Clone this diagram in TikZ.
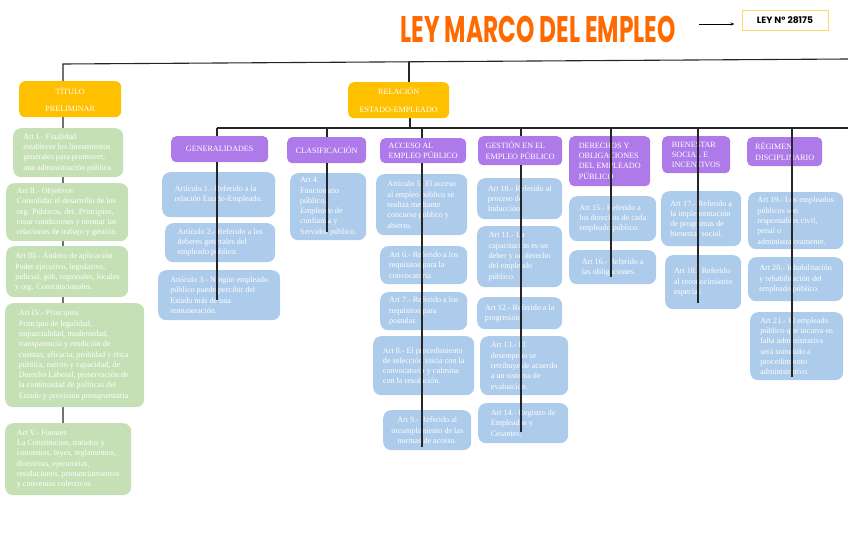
\documentclass[tikz,border=0pt]{standalone}
\usepackage{fontspec}
\setmainfont{Liberation Serif}
\newfontfamily\titlefont{Poppins}
\usepackage{graphicx}
\usetikzlibrary{arrows.meta, backgrounds}

\definecolor{titorange}{HTML}{FF6A00}
\definecolor{boxorange}{HTML}{FFC000}
\definecolor{boxgreen}{HTML}{C5E0B4}
\definecolor{boxblue}{HTML}{ADCBEA}
\definecolor{boxpurple}{HTML}{AE7AEA}
\definecolor{leyline}{HTML}{FFD966}

\begin{document}
\begin{tikzpicture}[
    x=1pt, y=-1pt,
    font=\fontsize{8.1}{10.3}\selectfont,
    title/.style={font=\titlefont\fontsize{37}{37}\selectfont\bfseries, text=titorange, inner sep=0pt},
    leybox/.style={rectangle, draw=leyline, line width=1pt, minimum width=86pt, minimum height=20pt, font=\titlefont\fontsize{9.2}{10}\selectfont\bfseries},
    headbox/.style={rectangle, rounded corners=6pt, fill=boxorange, text=white, anchor=north west, align=center, inner sep=1pt},
    catbox/.style={rectangle, rounded corners=5pt, fill=boxpurple, text=white, anchor=north west, align=left, inner sep=1pt},
    greenbox/.style={rectangle, rounded corners=8pt, fill=boxgreen, text=white, anchor=north west, align=left, inner sep=1pt},
    bluebox/.style={rectangle, rounded corners=8pt, fill=boxblue, text=white, anchor=north west, align=left, inner sep=1pt},
    wire/.style={line width=1.1pt, draw=black!85},
    arrow/.style={line width=0.9pt, -{Stealth[length=4pt]}},
]
    \useasboundingbox (0,0) rectangle (848,549);

    % title
    \node (title) [title] at (538,29) {\scalebox{0.63}[1]{LEY MARCO DEL EMPLEO}};
    \node (ley) [leybox] at (785,20) {LEY Nº 28175};
    \coordinate (arrs) at (699,24);
    \draw [arrow, shorten >=7pt] (arrs) -- (arrs -| ley.west);

    % bus lines
    \coordinate (tl) at (63,64);
    \coordinate (tr) at (848,59);
    \coordinate (relup) at (409,62);
    \coordinate (bus) at (410,128);
    \coordinate (busl) at (217,128);
    \coordinate (busr) at (848,128);

    % titulo preliminar
    \node (titulo) [headbox, minimum width=102pt, minimum height=36pt] at (19,81) {TÍTULO\\[7pt]PRELIMINAR};
    \node (artI) [greenbox, minimum width=110pt, minimum height=49pt] at (13,128)
      {Art I.- Finalidad\\establecer los lineamientos\\generales para promover,\\una administración pública.};
    \node (artII) [greenbox, minimum width=122pt, minimum height=58pt] at (6,183)
      {Art II.- Objetivos\\Consolidar el desarrollo de los\\org. Públicos, det. Principios,\\crear condiciones y normar las\\relaciones de trabajo y gestión.};
    \node (artIII) [greenbox, minimum width=122pt, minimum height=51pt] at (6,246)
      {Art III.- Ámbito de aplicación\\Poder ejecutivo, legislativo,\\judicial, gob, regionales, locales\\y org. Constitucionales.};
    \node (artIV) [greenbox, minimum width=139pt, minimum height=104pt] at (5,303)
      {Art IV.- Principios\\Principio de legalidad,\\imparcialidad, modernidad,\\transparencia y rendición de\\cuentas, eficacia, probidad y ética\\pública, mérito y capacidad, de\\Derecho Laboral, preservación de\\la continuidad de políticas del\\Estado y provisión presupuestaria.};
    \node (artV) [greenbox, minimum width=126pt, minimum height=72pt] at (5,423)
      {Art V.- Fuentes\\La Constitucion, tratados y\\convenios, leyes, reglamentos,\\directivas, ejecutorias,\\resoluciones, pronunciamientos\\y convenios colectivos.};

    % relacion estado-empleado
    \node (rel) [headbox, minimum width=101pt, minimum height=36pt] at (348,82) {RELACIÓN\\[7pt]ESTADO-EMPLEADO};

    % categories
    \node (gen) [catbox, minimum width=97pt, minimum height=26pt] at (171,136) {GENERALIDADES};
    \node (clas) [catbox, minimum width=79pt, minimum height=26pt] at (287,137) {CLASIFICACIÓN};
    \node (acc) [catbox, minimum width=86pt, minimum height=25pt] at (380,138) {ACCESO AL\\EMPLEO PÚBLICO};
    \node (ges) [catbox, minimum width=84pt, minimum height=29pt] at (478,136) {GESTIÓN EN EL\\EMPLEO PÚBLICO};
    \node (der) [catbox, minimum width=81pt, minimum height=50pt] at (569,136) {DERECHOS Y\\OBLIGACIONES\\DEL EMPLEADO\\PÚBLICO};
    \node (bie) [catbox, minimum width=68pt, minimum height=37pt] at (662,136) {BIENESTAR\\SOCIAL E\\INCENTIVOS};
    \node (reg) [catbox, minimum width=75pt, minimum height=29pt] at (747,137) {RÉGIMEN\\DISCIPLINARIO};

    % articles
    \node (art1) [bluebox, minimum width=113pt, minimum height=45pt] at (162,172) {Artículo 1.- Referido a la\\relación Estado-Empleado.};
    \node (art2) [bluebox, minimum width=110pt, minimum height=39pt] at (165,223) {Artículo 2.- Referido a los\\deberes generales del\\empleado público.};
    \node (art3) [bluebox, minimum width=122pt, minimum height=50pt] at (158,270) {Artículo 3.- Ningún empleado\\público puede percibir del\\Estado más de una\\remuneración.};
    \node (art4) [bluebox, minimum width=76pt, minimum height=67pt] at (290,173) {Art 4.\\Funcionario\\público,\\Empleado de\\confianza y\\Servidor público.};
    \node (art5) [bluebox, minimum width=91pt, minimum height=61pt] at (376,174) {Artículo 5. El acceso\\al empleo público se\\realiza mediante\\concurso público y\\abierto.};
    \node (art6) [bluebox, minimum width=87pt, minimum height=38pt] at (380,246) {Art 6.- Referido a los\\requisitos para la\\convocatoria.};
    \node (art7) [bluebox, minimum width=87pt, minimum height=38pt] at (380,292) {Art 7.- Referido a los\\requisitos para\\postular.};
    \node (art8) [bluebox, minimum width=101pt, minimum height=59pt] at (373,336) {Art 8.- El procedimiento\\de selección inicia con la\\convocatoria y culmina\\con la resolución.};
    \node (art9) [bluebox, align=center, minimum width=88pt, minimum height=40pt] at (383,410) {Art 9.- Referido al\\incumplimiento de las\\normas de acceso.};
    \node (art10) [bluebox, minimum width=85pt, minimum height=41pt] at (477,178) {Art 10.- Referido al\\proceso de\\Inducción.};
    \node (art11) [bluebox, minimum width=85pt, minimum height=61pt] at (477,226) {Art 11.- La\\capacitación es un\\deber y un derecho\\del empleado\\público.};
    \node (art12) [bluebox, minimum width=85pt, minimum height=32pt] at (477,297) {Art 12.- Referido a la\\progresión.};
    \node (art13) [bluebox, minimum width=88pt, minimum height=59pt] at (480,336) {Art 13.- El\\desempeño se\\retribuye de acuerdo\\a un sistema de\\evaluación.};
    \node (art14) [bluebox, minimum width=90pt, minimum height=40pt] at (478,403) {Art 14.- Registro de\\Empleados y\\Cesantes.};
    \node (art15) [bluebox, minimum width=87pt, minimum height=45pt] at (569,196) {Art 15.- Referido a\\los derechos de cada\\empleado público.};
    \node (art16) [bluebox, minimum width=87pt, minimum height=34pt] at (569,250) {Art 16.- Referido a\\las obligaciones.};
    \node (art17) [bluebox, minimum width=80pt, minimum height=55pt] at (661,191) {Art 17.- Referido a\\la implementación\\de programas de\\bienestar social.};
    \node (art18) [bluebox, minimum width=76pt, minimum height=54pt] at (665,255) {Art 18.- Referido\\al reconocimiento\\especial.};
    \node (art19) [bluebox, minimum width=95pt, minimum height=57pt] at (748,192) {Art 19.- Los empleados\\públicos son\\responsables civil,\\penal o\\administrativamente.};
    \node (art20) [bluebox, minimum width=95pt, minimum height=44pt] at (748,257) {Art 20.- Inhabilitación\\y rehabilitación del\\empleado público.};
    \node (art21) [bluebox, minimum width=93pt, minimum height=68pt] at (750,312) {Art 21.- El empleado\\público que incurra en\\falta administrativa\\será sometido a\\procedimiento\\administrativo.};

    % line ends inside the last article
    \coordinate (genend) at (217,300);
    \coordinate (clasend) at (327,232);
    \coordinate (accend) at (422,447);
    \coordinate (gesend) at (521,432);
    \coordinate (derend) at (611,277);
    \coordinate (bieend) at (698,303);
    \coordinate (regend) at (792,377);

    \begin{scope}[on background layer]
      \draw [wire] (tr) -- (tl) -- (tl |- artV.north);
      \draw [wire] (relup) -- (relup |- rel.north);
      \draw [wire] (rel.south -| bus) -- (bus);
      \draw [wire] (busl) -- (busr);
      \draw [wire] (busl) -- (genend);
      \draw [wire] (clasend |- bus) -- (clasend);
      \draw [wire] (accend |- bus) -- (accend);
      \draw [wire] (gesend |- bus) -- (gesend);
    \end{scope}

    \draw [wire] (gen.south -| genend) -- (genend);
    \draw [wire] (clas.south -| clasend) -- (clasend);
    \draw [wire] (acc.south -| accend) -- (accend);
    \draw [wire] (ges.south -| gesend) -- (gesend);
    \draw [wire] (derend |- bus) -- (derend);
    \draw [wire] (bieend |- bus) -- (bieend);
    \draw [wire] (regend |- bus) -- (regend);

\end{tikzpicture}
\end{document}
